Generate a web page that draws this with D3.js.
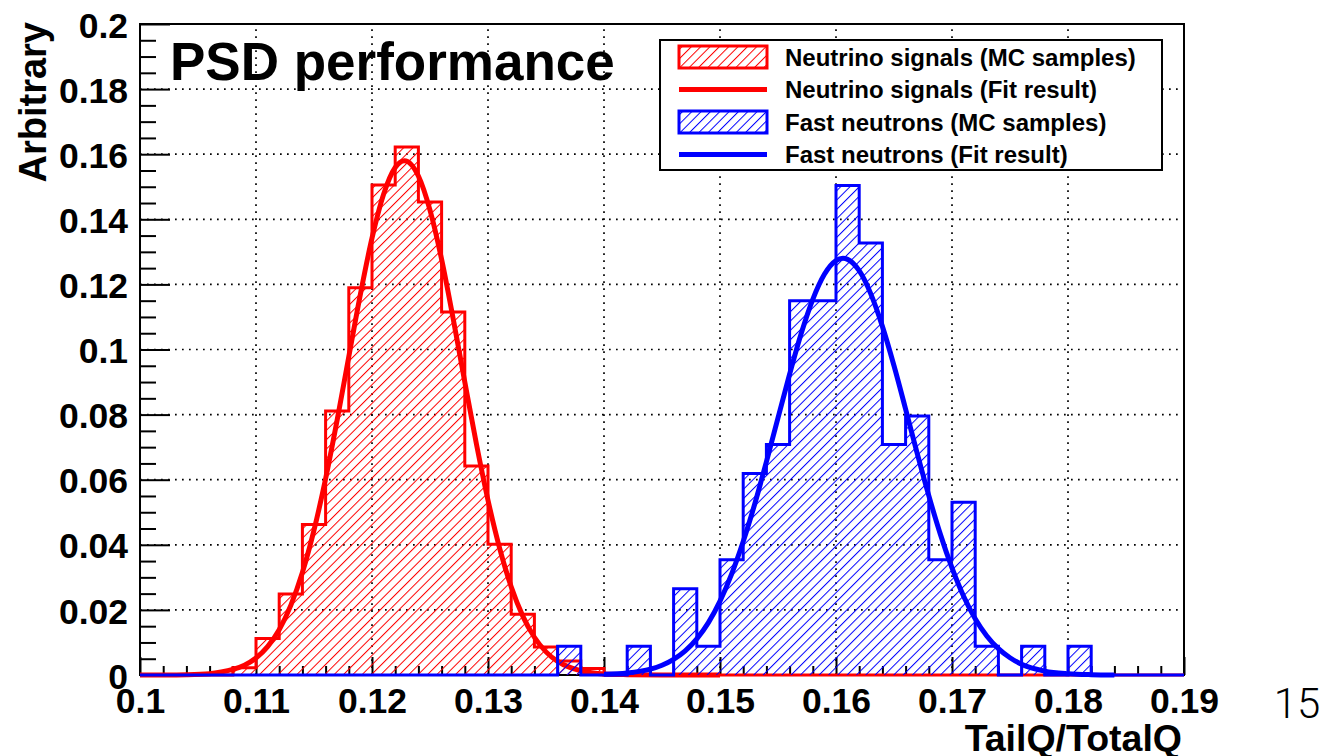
<!DOCTYPE html>
<html>
<head>
<meta charset="utf-8">
<script src="https://cdn.jsdelivr.net/npm/d3@7"></script>
<style>
  html, body { margin: 0; padding: 0; background: #fff; }
  svg { display: block; }
  text { font-family: "Liberation Sans", Arial, Helvetica, sans-serif; font-weight: bold; fill: #000; }
</style>
</head>
<body>
<svg id="chart" width="1320" height="756"></svg>
<script>
// ---------------- data ----------------
const binEdges = [0.100,0.102,0.104,0.106,0.108,0.110,0.112,0.114,0.116,0.118,
                  0.120,0.122,0.124,0.126,0.128,0.130,0.132,0.134,0.136,0.138,
                  0.140,0.142,0.144,0.146,0.148,0.150,0.152,0.154,0.156,0.158,
                  0.160,0.162,0.164,0.166,0.168,0.170,0.172,0.174,0.176,0.178,
                  0.180,0.182,0.184,0.186,0.188,0.190];
const neutrinoMC = [0,0,0,0,0.0022,0.0112,0.0249,0.0462,0.0811,0.1190,
                    0.1505,0.1622,0.1453,0.1115,0.0642,0.0402,0.0187,0.0086,0.0043,0.0020,
                    0,0,0,0,0,0,0,0,0,0,
                    0,0,0,0,0,0,0,0,0,0,
                    0,0,0,0,0];
const fastNeutronMC = [0,0,0,0,0,0,0,0,0,0,
                       0,0,0,0,0,0,0,0,0.0088,0,
                       0,0.0088,0,0.0265,0.0088,0.0354,0.0619,0.0708,0.1150,0.1150,
                       0.1504,0.1327,0.0708,0.0796,0.0354,0.0531,0.0088,0,0.0088,0,
                       0.0088,0,0,0,0];
const neutrinoFitX = [0.100,0.102,0.104,0.106,0.107,0.108,0.109,0.110,0.111,0.112,0.113,0.114,0.115,0.116,0.117,0.118,0.119,0.120,0.121,0.122,0.1228,0.124,0.125,0.126,0.127,0.128,0.129,0.130,0.131,0.132,0.133,0.134,0.135,0.136,0.137,0.138,0.140,0.142,0.145,0.150];
const neutrinoFitY = [0,0.00002,0.0001,0.0004,0.0009,0.0017,0.0030,0.0052,0.0087,0.0139,0.0214,0.0315,0.0445,0.0603,0.0784,0.0978,0.1170,0.1342,0.1477,0.1559,0.1580,0.1533,0.1428,0.1277,0.1094,0.0900,0.0710,0.0537,0.0390,0.0271,0.0181,0.0116,0.0071,0.0042,0.0024,0.0013,0.0003,0.0001,0,0];
const fastFitX = [0.140,0.142,0.144,0.145,0.146,0.147,0.148,0.149,0.150,0.151,0.152,0.153,0.154,0.155,0.156,0.157,0.158,0.159,0.160,0.1606,0.161,0.162,0.163,0.164,0.165,0.166,0.167,0.168,0.169,0.170,0.171,0.172,0.173,0.174,0.175,0.176,0.178,0.180,0.182,0.184];
const fastFitY = [0.0002,0.0006,0.0018,0.0030,0.0048,0.0074,0.0111,0.0161,0.0227,0.0310,0.0410,0.0526,0.0655,0.0790,0.0924,0.1049,0.1154,0.1231,0.1273,0.1280,0.1277,0.1242,0.1171,0.1071,0.0950,0.0817,0.0681,0.0551,0.0432,0.0329,0.0242,0.0173,0.0120,0.0081,0.0053,0.0033,0.0012,0.0004,0.0001,0];
const xTickValues = [0.10,0.11,0.12,0.13,0.14,0.15,0.16,0.17,0.18,0.19];
const xTickLabels = ["0.1","0.11","0.12","0.13","0.14","0.15","0.16","0.17","0.18","0.19"];
const yTickValues = [0,0.02,0.04,0.06,0.08,0.10,0.12,0.14,0.16,0.18,0.20];
const yTickLabels = ["0","0.02","0.04","0.06","0.08","0.1","0.12","0.14","0.16","0.18","0.2"];
const legendLabels = ["Neutrino signals (MC samples)","Neutrino signals (Fit result)","Fast neutrons (MC samples)","Fast neutrons (Fit result)"];
const legendKinds = ["hist","line","hist","line"];
const legendColors = ["#ff0000","#ff0000","#0000ff","#0000ff"];
const titleText = "PSD performance";
const xTitle = "TailQ/TotalQ";
const yTitle = "Arbitrary";
const pageNumber = "15";

// ---------------- layout ----------------
const svg = d3.select("#chart");
const L = 140, R = 1184, T = 24, B = 675;
const x = d3.scaleLinear().domain([0.1, 0.19]).range([L, R]);
const y = d3.scaleLinear().domain([0, 0.2]).range([B, T]);

svg.append("rect").attr("width", 1320).attr("height", 756).attr("fill", "#fff");

const defs = svg.append("defs");
function hatch(id, color) {
  const p = defs.append("pattern").attr("id", id)
    .attr("patternUnits", "userSpaceOnUse")
    .attr("width", 6.6).attr("height", 20)
    .attr("patternTransform", "rotate(45)");
  p.append("line").attr("x1", 0.5).attr("y1", 0).attr("x2", 0.5).attr("y2", 20)
    .attr("stroke", color).attr("stroke-width", 1);
}
hatch("hatchRed", "#ff0000");
hatch("hatchBlue", "#0000ff");

// grid
const grid = svg.append("g").attr("stroke", "#000").attr("stroke-width", 1.7)
  .attr("stroke-dasharray", "1.7,5.3");
grid.selectAll("line.gx").data(xTickValues.slice(1, -1)).join("line")
  .attr("x1", d => x(d)).attr("x2", d => x(d)).attr("y1", B).attr("y2", T);
grid.selectAll("line.gy").data(yTickValues.slice(1, -1)).join("line")
  .attr("y1", d => y(d)).attr("y2", d => y(d)).attr("x1", L).attr("x2", R);

// axes ticks
const minorY = d3.range(0, 0.2001, 0.005).filter(v => Math.abs(v / 0.02 - Math.round(v / 0.02)) > 1e-6);
const minorX = d3.range(0.1, 0.1901, 0.002).filter(v => Math.abs((v - 0.1) / 0.01 - Math.round((v - 0.1) / 0.01)) > 1e-6);

const yAxis = svg.append("g").attr("transform", `translate(${L},0)`)
  .call(d3.axisLeft(y).tickValues(yTickValues).tickSize(-30).tickPadding(12)
    .tickFormat((d, i) => yTickLabels[i]));
const yMinor = svg.append("g").attr("transform", `translate(${L},0)`)
  .call(d3.axisLeft(y).tickValues(minorY).tickSize(-16).tickFormat(""));
const xAxis = svg.append("g").attr("transform", `translate(0,${B})`)
  .call(d3.axisBottom(x).tickValues(xTickValues).tickSize(-18).tickPadding(13)
    .tickFormat((d, i) => xTickLabels[i]));
const xMinor = svg.append("g").attr("transform", `translate(0,${B})`)
  .call(d3.axisBottom(x).tickValues(minorX).tickSize(-9).tickFormat(""));
[yAxis, yMinor, xAxis, xMinor].forEach(g => {
  g.select(".domain").remove();
  g.selectAll(".tick line").attr("stroke", "#000").attr("stroke-width", 2);
});
yAxis.selectAll("text").attr("font-size", 35.5).attr("dy", "0.37em")
  .attr("font-family", "'Liberation Sans', Arial, sans-serif").attr("font-weight", "bold").attr("fill", "#000");
xAxis.selectAll("text").attr("font-size", 35.5)
  .attr("font-family", "'Liberation Sans', Arial, sans-serif").attr("font-weight", "bold").attr("fill", "#000");

// frame
svg.append("rect").attr("x", L).attr("y", T).attr("width", R - L).attr("height", B - T)
  .attr("fill", "none").attr("stroke", "#000").attr("stroke-width", 2);

// histograms
function stepPoints(vals) {
  const pts = [[x(binEdges[0]), y(0)]];
  vals.forEach((v, i) => {
    pts.push([x(binEdges[i]), y(v)]);
    pts.push([x(binEdges[i + 1]), y(v)]);
  });
  pts.push([x(binEdges[binEdges.length - 1]), y(0)]);
  return pts;
}
function drawHist(vals, color, fillId) {
  const pts = stepPoints(vals);
  svg.append("path").attr("d", d3.line()(pts) + "Z")
    .attr("fill", `url(#${fillId})`).attr("stroke", "none");
  svg.append("path").attr("d", d3.line()(pts))
    .attr("fill", "none").attr("stroke", color).attr("stroke-width", 3)
    .attr("stroke-linejoin", "miter");
}
function drawFit(xs, ys, color) {
  const pts = xs.map((v, i) => [x(v), y(ys[i])]);
  svg.append("path").attr("d", d3.line().curve(d3.curveMonotoneX)(pts))
    .attr("fill", "none").attr("stroke", color).attr("stroke-width", 5)
    .attr("stroke-linejoin", "round");
}
drawHist(neutrinoMC, "#ff0000", "hatchRed");
drawFit(neutrinoFitX, neutrinoFitY, "#ff0000");
drawHist(fastNeutronMC, "#0000ff", "hatchBlue");
drawFit(fastFitX, fastFitY, "#0000ff");

// title
svg.append("text").attr("x", 170).attr("y", 80).attr("font-size", 53).text(titleText);

// legend
const lg = svg.append("g");
lg.append("rect").attr("x", 660).attr("y", 40).attr("width", 502).attr("height", 130)
  .attr("fill", "#fff").attr("stroke", "#000").attr("stroke-width", 2);
const rowY = [57, 89.5, 122, 154.5];
legendLabels.forEach((lab, i) => {
  const cy = rowY[i];
  if (legendKinds[i] === "hist") {
    lg.append("rect").attr("x", 679).attr("y", cy - 11).attr("width", 88).attr("height", 22)
      .attr("fill", legendColors[i] === "#ff0000" ? "url(#hatchRed)" : "url(#hatchBlue)")
      .attr("stroke", legendColors[i]).attr("stroke-width", 3);
  } else {
    lg.append("line").attr("x1", 679).attr("x2", 767).attr("y1", cy).attr("y2", cy)
      .attr("stroke", legendColors[i]).attr("stroke-width", 5);
  }
  lg.append("text").attr("x", 785).attr("y", cy).attr("dy", "0.36em")
    .attr("font-size", 24).text(lab);
});

// axis titles
svg.append("text").attr("x", 1182).attr("y", 751).attr("text-anchor", "end")
  .attr("font-size", 37.5).text(xTitle);
svg.append("text").attr("transform", "translate(46,22) rotate(-90)")
  .attr("text-anchor", "end").attr("font-size", 38).text(yTitle);

// page number
svg.append("text").attr("x", 1297).attr("y", 718).attr("text-anchor", "middle")
  .attr("font-size", 42).attr("font-weight", 300)
  .style("font-family", "Roboto, 'Noto Sans', sans-serif").style("font-weight", 300)
  .text(pageNumber);
</script>
</body>
</html>
